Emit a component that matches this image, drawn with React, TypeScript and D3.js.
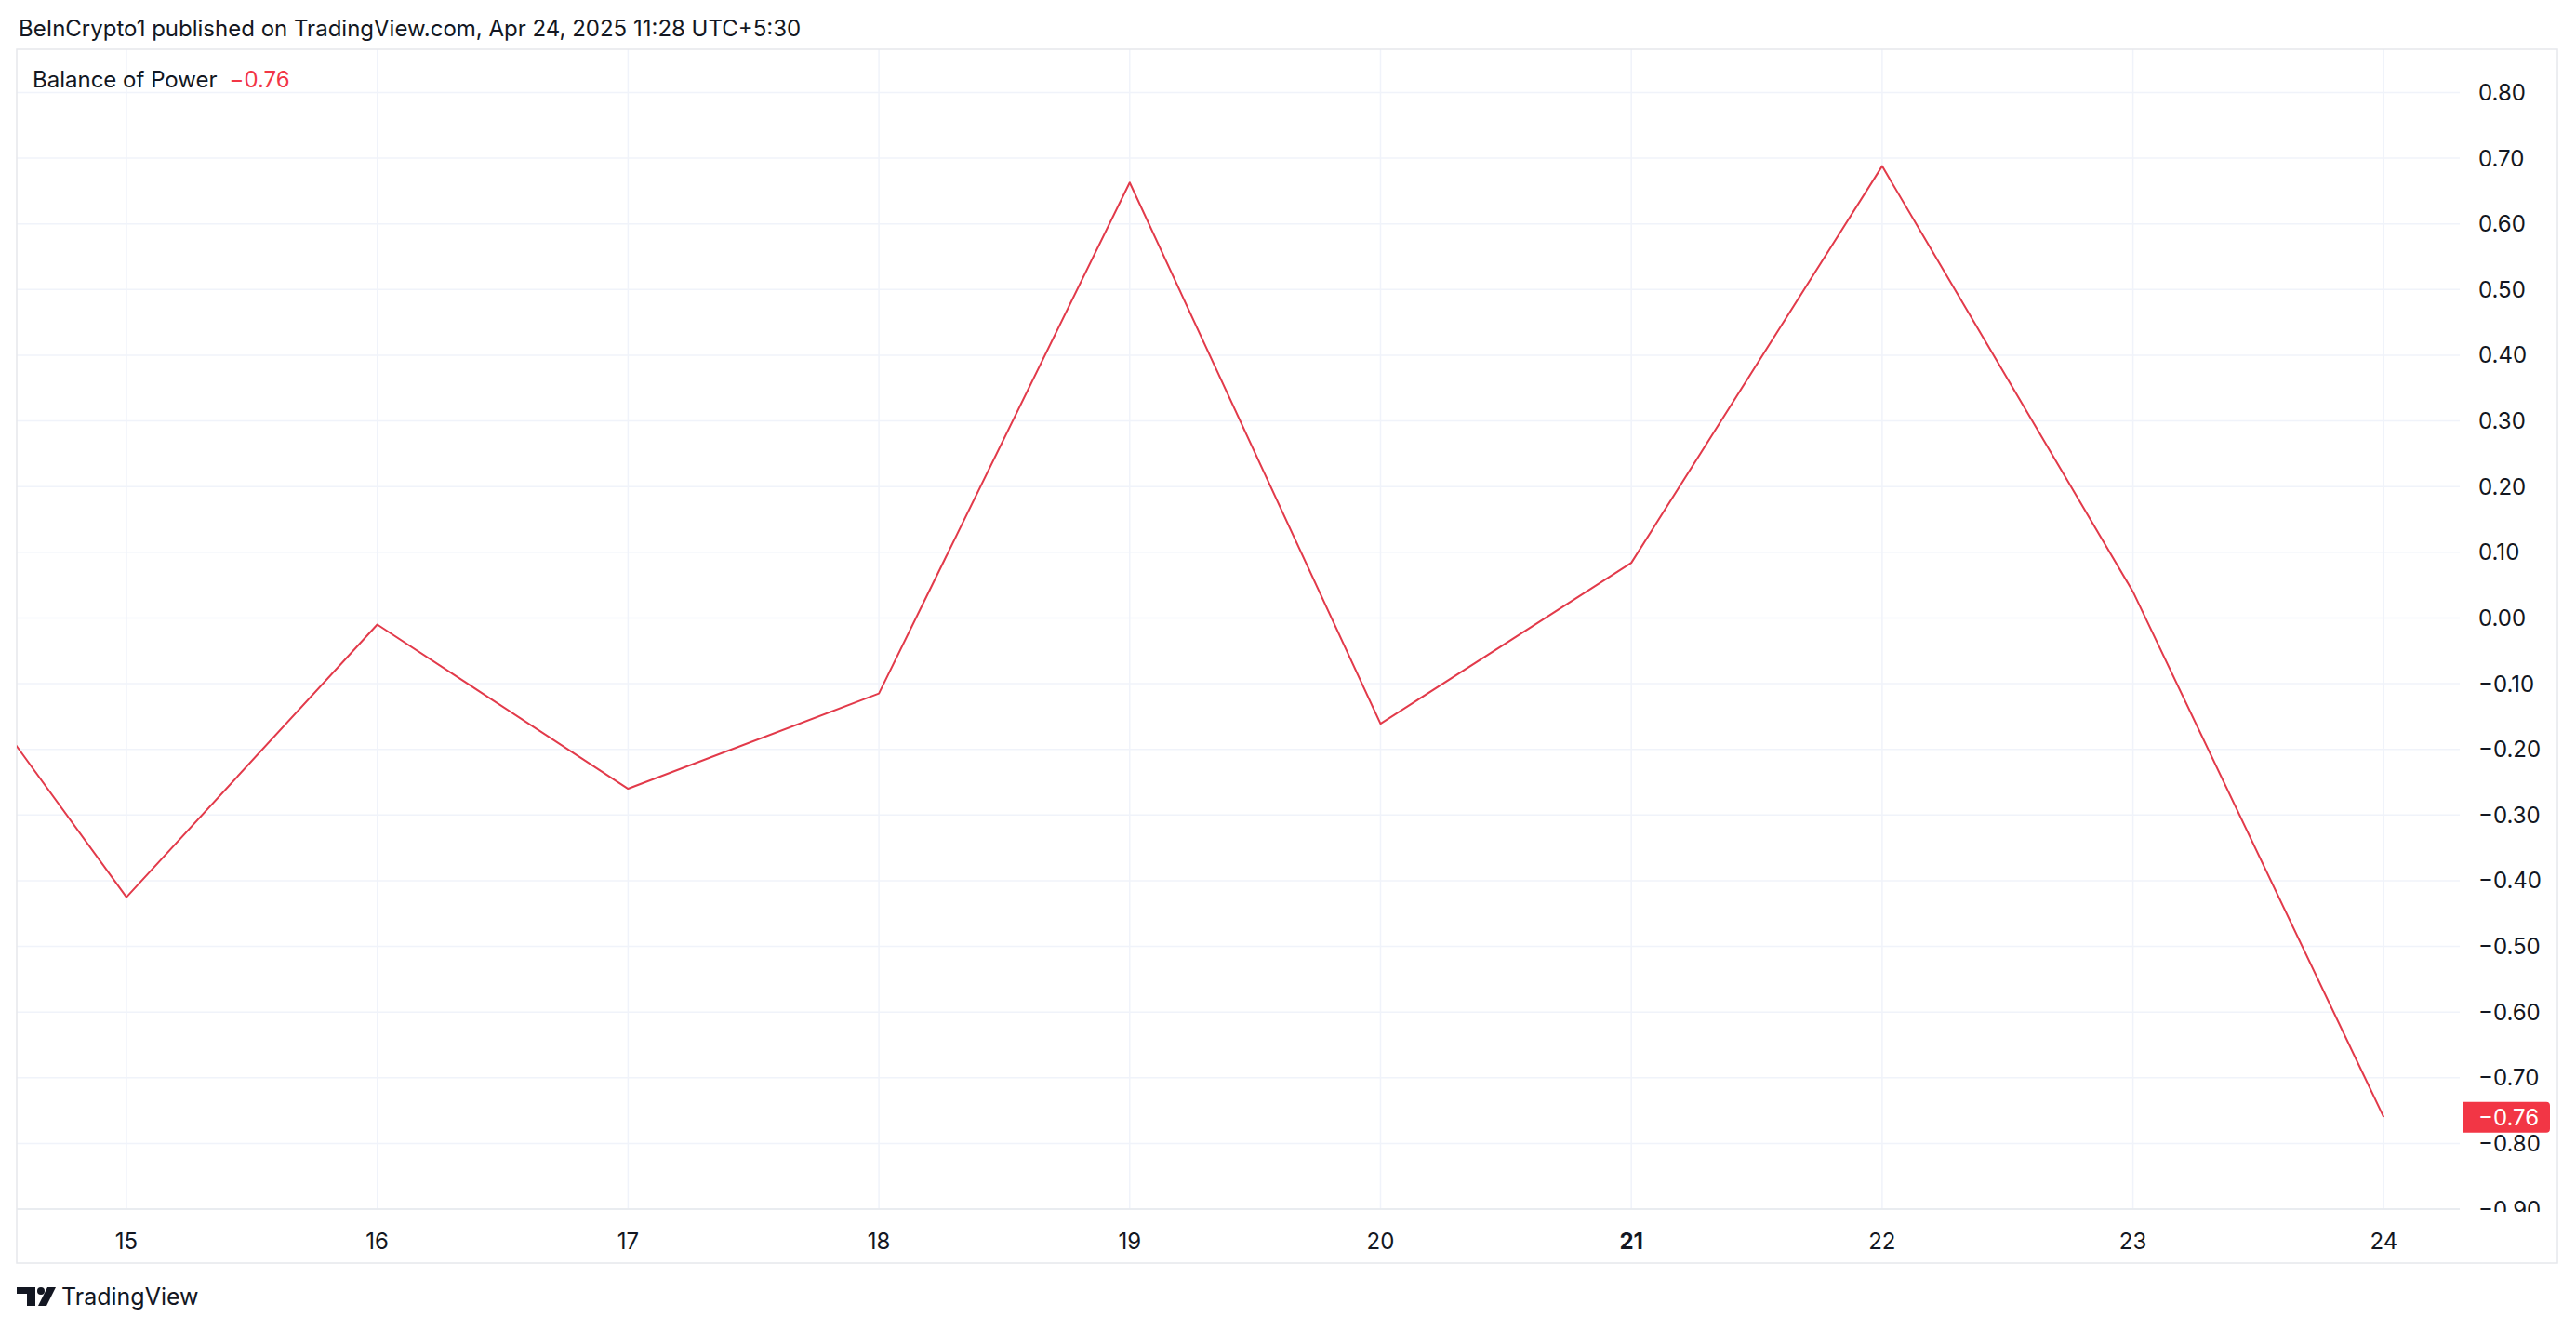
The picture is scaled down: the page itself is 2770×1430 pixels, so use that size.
import React from "react";
import * as d3 from "d3";

const days = [14, 15, 16, 17, 18, 19, 20, 21, 22, 23, 24];
const bopValues = [0.1, -0.425, -0.01, -0.26, -0.115, 0.663, -0.161, 0.084, 0.688, 0.04, -0.76];
const xTickDays = [15, 16, 17, 18, 19, 20, 21, 22, 23, 24];
const xTickLabels = ["15", "16", "17", "18", "19", "20", "21", "22", "23", "24"];
const boldTick = "21";
const yTicks = [-0.9, -0.8, -0.7, -0.6, -0.5, -0.4, -0.3, -0.2, -0.1, 0, 0.1, 0.2, 0.3, 0.4, 0.5, 0.6, 0.7, 0.8];
const headerText = "BeInCrypto1 published on TradingView.com, Apr 24, 2025 11:28 UTC+5:30";
const indicatorName = "Balance of Power";
const lastValue = -0.76;

const W = 2770;
const H = 1430;
const FONT = "Inter, Roboto, 'Liberation Sans', Arial, sans-serif";
const RED = "#F23645";
const LINE_RED = "#e23a4a";
const GRID = "#f0f3fa";
const BORDER = "#e6e8ec";
const TEXT = "#131722";

const frame = { left: 18, top: 53, right: 2750, bottom: 1358 };
const plot = { left: 18, top: 53, right: 2645, bottom: 1300 };

function fmt(v: number) {
  const s = Math.abs(v).toFixed(2);
  return v < 0 ? "\u22120" + s.slice(1) : s;
}

export default function App() {
  const x = d3.scaleLinear().domain([14.5625, 24.303]).range([plot.left, plot.right]);
  const y = d3.scaleLinear().domain([-0.9, 0.8]).range([1300, 99.5]);
  const line = d3
    .line<number>()
    .x((_, i) => x(days[i]))
    .y((d) => y(d));
  const path = line(bopValues) || "";
  const yLast = y(lastValue);

  return (
    <svg
      width={W}
      height={H}
      style={{ position: "absolute", left: 0, top: 0, background: "#fff" }}
      fontFamily={FONT}
    >
      <defs>
        <clipPath id="plotClip">
          <rect x={plot.left} y={plot.top} width={plot.right - plot.left} height={plot.bottom - plot.top} />
        </clipPath>
        <clipPath id="axisClip">
          <rect x={plot.right} y={plot.top} width={frame.right - plot.right} height={plot.bottom - plot.top + 3} />
        </clipPath>
      </defs>
      <rect x={0} y={0} width={W} height={H} fill="#fff" />
      <text x={20} y={30} dominantBaseline="central" fontSize={24} fill={TEXT}>
        {headerText}
      </text>

      {/* grid */}
      <g>
        {yTicks.map((t) => (
          <line key={"gy" + t} x1={plot.left} x2={plot.right} y1={y(t)} y2={y(t)} stroke={GRID} strokeWidth={1.5} />
        ))}
        {xTickDays.map((d) => (
          <line key={"gx" + d} x1={x(d)} x2={x(d)} y1={plot.top} y2={plot.bottom} stroke={GRID} strokeWidth={1.5} />
        ))}
      </g>

      {/* frame */}
      <rect
        x={frame.left}
        y={frame.top}
        width={frame.right - frame.left}
        height={frame.bottom - frame.top}
        fill="none"
        stroke={BORDER}
        strokeWidth={1.5}
      />
      <line x1={plot.left} x2={plot.right} y1={plot.bottom} y2={plot.bottom} stroke={BORDER} strokeWidth={1.5} />

      {/* series */}
      <g clipPath="url(#plotClip)">
        <path d={path} fill="none" stroke={LINE_RED} strokeWidth={2} strokeLinejoin="round" />
      </g>

      {/* legend */}
      <text x={35} y={85} dominantBaseline="central" fontSize={24} fill={TEXT}>
        {indicatorName}
        <tspan dx={14} fill={RED}>{fmt(lastValue)}</tspan>
      </text>

      {/* y axis labels */}
      <g clipPath="url(#axisClip)">
        {yTicks.map((t) => (
          <text key={"yl" + t} x={2665} y={y(t)} dominantBaseline="central" fontSize={24} fill={TEXT}>
            {fmt(t)}
          </text>
        ))}
      </g>

      {/* last value label */}
      <path
        d={`M2648,${yLast - 16.5} H2738 a4,4 0 0 1 4,4 V${yLast + 12.5} a4,4 0 0 1 -4,4 H2648 Z`}
        fill={RED}
      />
      <text x={2665} y={yLast} dominantBaseline="central" fontSize={24} fill="#fff">
        {fmt(lastValue)}
      </text>

      {/* x axis labels */}
      {xTickDays.map((d, i) => (
        <text
          key={"xl" + d}
          x={x(d)}
          y={1334}
          textAnchor="middle"
          dominantBaseline="central"
          fontSize={24}
          fontWeight={xTickLabels[i] === boldTick ? 700 : 400}
          fill={TEXT}
        >
          {xTickLabels[i]}
        </text>
      ))}

      {/* TradingView logo */}
      <g fill={TEXT}>
        <path d="M18,1384 H38 V1404 H29 V1391 H18 Z" />
        <circle cx={44} cy={1388} r={4} />
        <path d="M51,1384 H60 L50,1404 H41 Z" />
      </g>
      <text x={66} y={1394} dominantBaseline="central" fontSize={25} fill={TEXT}>
        TradingView
      </text>
    </svg>
  );
}
